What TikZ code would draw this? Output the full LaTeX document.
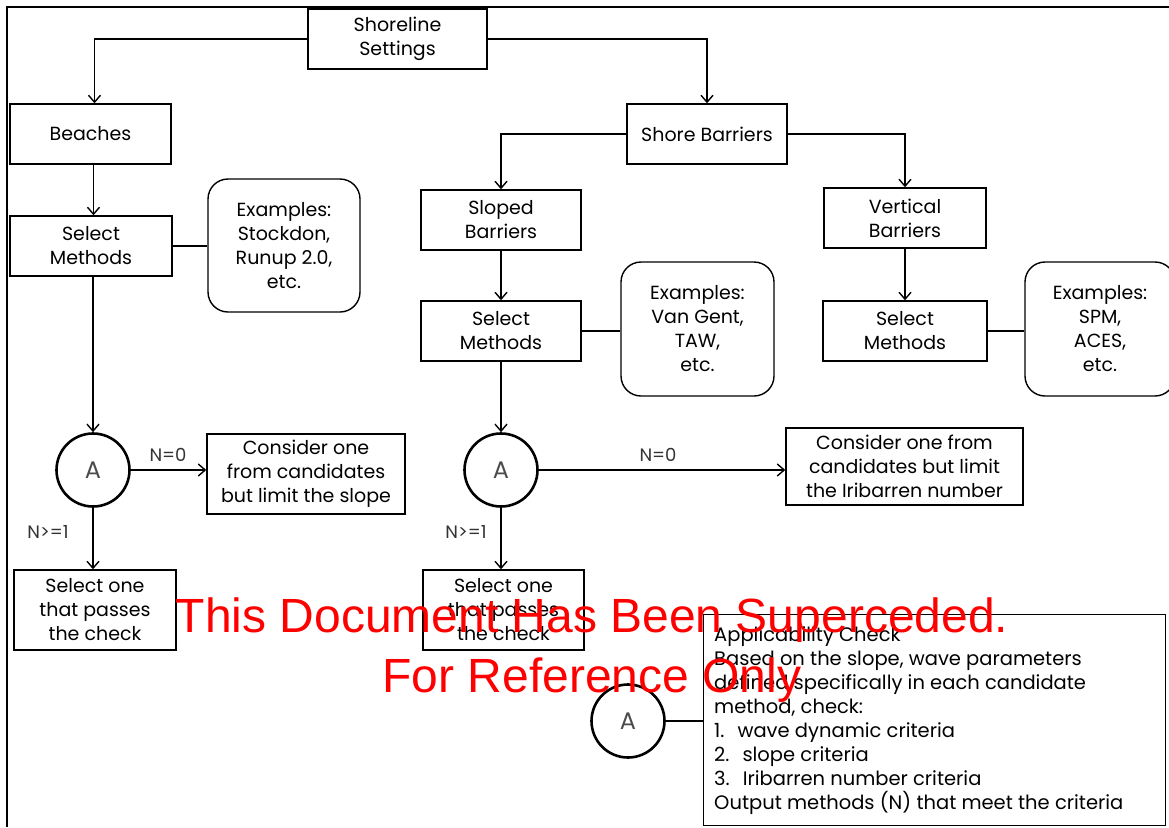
\documentclass[tikz,border=0pt]{standalone}
\usepackage{fontspec}
\setmainfont{Poppins}
\newfontfamily\wmfont{Liberation Sans}
\usetikzlibrary{arrows.meta}
\begin{document}
\begin{tikzpicture}[x=1pt,y=-1pt,
  >={Straight Barb[length=7pt,width=12pt]},
  txt/.style={font=\fontsize{19}{24}\selectfont, align=center, inner sep=0pt},
  box/.style={draw, line width=1.4pt, txt},
  rbox/.style={draw, line width=1.4pt, rounded corners=20pt, txt},
  circ/.style={draw, circle, line width=2.6pt, minimum size=73pt, inner sep=0pt, font=\fontsize{24}{24}\selectfont, text=black!70},
  lab/.style={font=\fontsize{18}{20}\selectfont, inner sep=0pt, text=black!80},
  conn/.style={line width=1.4pt},
  frame/.style={line width=2.2pt}
]
\useasboundingbox (0,0) rectangle (1169,827);
\coordinate (ftl) at (7,7);
\coordinate (ftr) at (1169,7);
\coordinate (fbl) at (7,827);
\draw[frame] (ftr) -- (ftl) -- (fbl);

% top
\node[box, minimum width=179pt, minimum height=60pt] (shore) at (397.5,39) {Shoreline\\Settings};
\node[box, minimum width=161pt, minimum height=60pt] (beach) at (90.5,134) {Beaches};
\node[box, minimum width=160pt, minimum height=60pt] (sb) at (707,134) {Shore Barriers};

% left column
\node[box, minimum width=162pt, minimum height=60pt] (selL) at (91,246) {Select\\Methods};
\node[rbox, minimum width=152pt, minimum height=133pt] (exL) at (284,245.5) {Examples:\\Stockdon,\\Runup 2.0,\\etc.};
\node[circ] (aL) at (93,470) {A};
\node[box, minimum width=198pt, minimum height=80pt] (conL) at (306,474) {Consider one\\from candidates\\but limit the slope};
\node[box, minimum width=162pt, minimum height=80pt] (oneL) at (95,610) {Select one\\that passes\\the check};

% middle column
\node[box, minimum width=160pt, minimum height=60pt] (slope) at (501,220) {Sloped\\Barriers};
\node[box, minimum width=160pt, minimum height=60pt] (selM) at (501,331) {Select\\Methods};
\node[rbox, minimum width=153pt, minimum height=134pt] (exM) at (697.5,329) {Examples:\\Van Gent,\\TAW,\\etc.};
\node[circ] (aM) at (501,470) {A};
\node[box, minimum width=237pt, minimum height=77pt] (conM) at (904.5,466.5) {Consider one from\\candidates but limit\\the Iribarren number};
\node[box, minimum width=161pt, minimum height=80pt] (oneM) at (503.5,610) {Select one\\that passes\\the check};

% right column
\node[box, minimum width=162pt, minimum height=60pt] (vert) at (905,218) {Vertical\\Barriers};
\node[box, minimum width=164pt, minimum height=60pt] (selR) at (905,331) {Select\\Methods};
\node[rbox, minimum width=150pt, minimum height=134pt] (exR) at (1100,329) {Examples:\\SPM,\\ACES,\\etc.};

% applicability
\node[circ] (aB) at (628,721) {A};
\node[draw, line width=1.4pt, minimum width=462pt, minimum height=211pt, anchor=north west,
      inner sep=0pt] (app) at (703,614) {};
\node[anchor=north west, inner sep=0pt, align=left, font=\fontsize{19.5}{24}\selectfont] (apptxt) at (714,626)
 {Applicability Check\\
  Based on the slope, wave parameters\\
  defined specifically in each candidate\\
  method, check:\\
  1.\hspace{13pt}wave dynamic criteria\\
  2.\hspace{13pt}slope criteria\\
  3.\hspace{13pt}Iribarren number criteria\\
  Output methods (N) that meet the criteria};

% labels
\node[lab] (n0L) at (168,455) {N=0};
\node[lab] (n1L) at (48,532) {N>=1};
\node[lab] (n0M) at (658,455) {N=0};
\node[lab] (n1M) at (466,532) {N>=1};

% connectors
\draw[conn,->] (shore.west) -| ([xshift=4pt]beach.north);
\draw[conn,->] (shore.east) -| (sb.north);
\draw[conn,->] ([xshift=3pt]beach.south) -- ([xshift=3pt]beach.south |- selL.north);
\draw[conn] (selL.east) -- (selL.east -| exL.west);
\draw[conn,->] (selL.south -| aL.north) -- (aL.north);
\draw[conn,->] (aL.east) -- (aL.east -| conL.west);
\draw[conn,->] (aL.south) -- (aL.south |- oneL.north);

\draw[conn,->] (sb.west) -| (slope.north);
\draw[conn,->] (sb.east) -| (vert.north);
\draw[conn,->] (slope) -- (selM);
\draw[conn] (selM.east) -- (selM.east -| exM.west);
\draw[conn,->] (selM.south) -- (aM.north);
\draw[conn,->] (aM.east) -- (aM.east -| conM.west);
\draw[conn,->] (aM.south) -- (aM.south |- oneM.north);

\draw[conn,->] (vert.south) -- (vert.south |- selR.north);
\draw[conn] (selR.east) -- (selR.east -| exR.west);
\draw[conn] (aB.east) -- (aB.east -| app.west);

% watermark
\node[text=red, font=\wmfont\fontsize{48}{60}\selectfont, align=center, inner sep=0pt] (wm) at (592,650)
 {This Document Has Been Superceded.\\For Reference Only};
\end{tikzpicture}
\end{document}
